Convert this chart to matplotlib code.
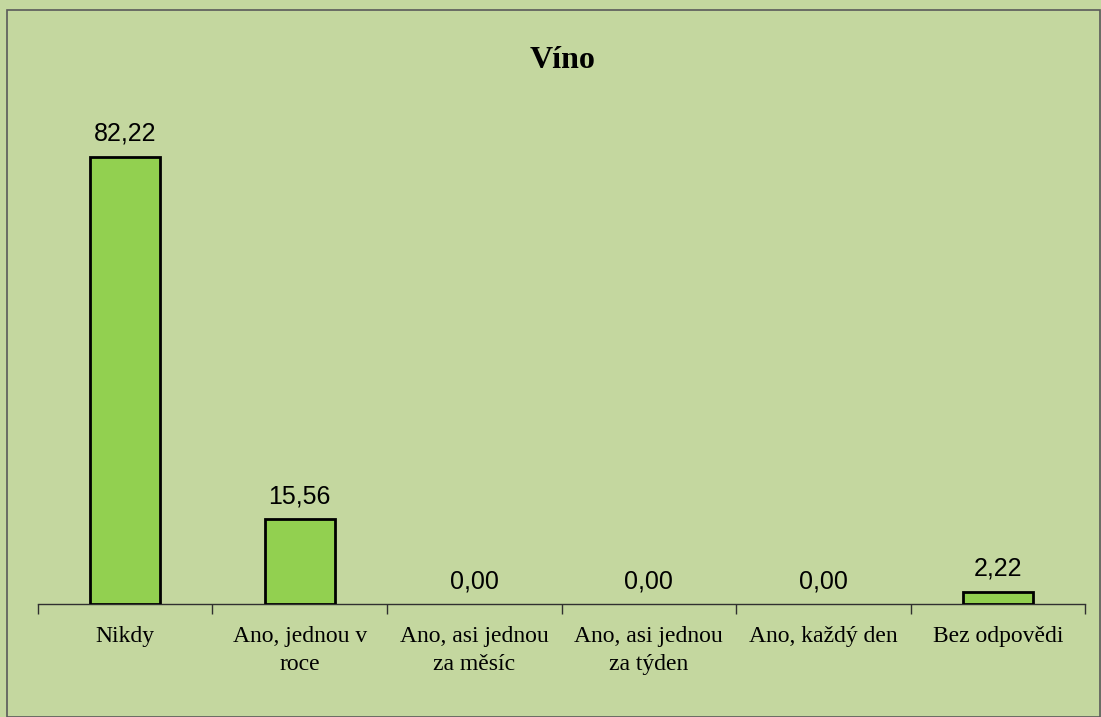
import matplotlib.pyplot as plt
from matplotlib.patches import Rectangle

# Data
categories = ["Nikdy", "Ano, jednou v\nroce", "Ano, asi jednou\nza měsíc",
              "Ano, asi jednou\nza týden", "Ano, každý den", "Bez odpovědi"]
values = [82.22, 15.56, 0.00, 0.00, 0.00, 2.22]
title = "Víno"

bg = "#C4D79F"
bar_color = "#92D050"

fig = plt.figure(figsize=(11.01, 7.17), dpi=100, facecolor=bg)
ax = fig.add_axes([0.0345, 0.1576, 0.951, 0.682])
ax.set_facecolor(bg)

x = list(range(len(categories)))
# zero bars get no outline (Excel draws nothing for them)
edge_w = [2 if v > 0 else 0 for v in values]
ax.bar(x, values, width=0.4, color=bar_color, edgecolor="black", linewidth=edge_w, zorder=3)

ax.set_xlim(-0.5, len(categories) - 0.5)
ax.set_ylim(0, 89.9)

# value labels
for xi, v in zip(x, values):
    ax.annotate(f"{v:.2f}".replace(".", ","), (xi, v), xytext=(0, 23),
                textcoords="offset pixels", ha="center", va="center",
                fontsize=18, family="Liberation Sans", color="black")

# axes styling
for s in ["top", "right", "left"]:
    ax.spines[s].set_visible(False)
ax.spines["bottom"].set_color("#303030")
ax.spines["bottom"].set_linewidth(1)
ax.set_yticks([])

ax.set_xticks([i - 0.5 for i in range(len(categories) + 1)])
ax.set_xticklabels([])
ax.tick_params(axis="x", direction="out", length=7, color="#303030", width=1)
ax.set_xticks(x, minor=True)
ax.set_xticklabels(categories, minor=True, family="Liberation Serif", fontsize=17,
                   linespacing=1.45)
ax.tick_params(axis="x", which="minor", length=0, pad=16)

fig.text(0.511, 0.915, title, ha="center", va="center", fontsize=23,
         fontweight="bold", family="Liberation Serif")

# chart area border
fig.patches.append(Rectangle((7 / 1101, 0.0), 1093 / 1101, 707 / 717,
                             transform=fig.transFigure, fill=False,
                             edgecolor="#5a5a5a", linewidth=1.2))

fig.savefig("out.png", dpi=100, facecolor=bg)
